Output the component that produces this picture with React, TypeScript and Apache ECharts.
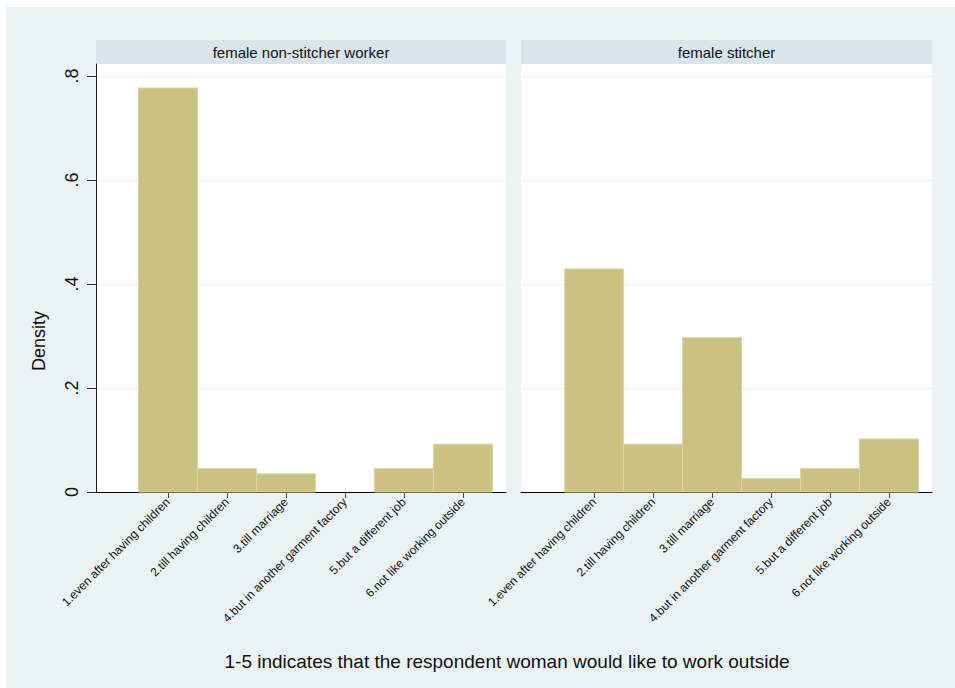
import React, { useEffect, useRef } from 'react';
import * as echarts from 'echarts';

const categories = [
  '1.even after having children',
  '2.till having children',
  '3.till marriage',
  '4.but in another garment factory',
  '5.but a different job',
  '6.not like working outside',
];
const categoryCodes = [1, 2, 3, 4, 5, 6];
const nonStitcherDensity = [0.777, 0.045, 0.035, 0, 0.045, 0.092];
const stitcherDensity = [0.429, 0.092, 0.297, 0.026, 0.045, 0.102];
const yTicks = [0, 0.2, 0.4, 0.6, 0.8];
const yTickLabels = ['0', '.2', '.4', '.6', '.8'];
const panelTitles = ['female non-stitcher worker', 'female stitcher'];
const yTitle = 'Density';
const note = '1-5 indicates that the respondent woman would like to work outside';

const FONT = 'Liberation Sans, Arial, Helvetica, sans-serif';
const BG = '#EAF2F3';
const HEADER = '#D9E5EB';
const BAR_FILL = '#CAC27E';
const BAR_STROKE = '#DCD6A6';

export default function App() {
  const ref = useRef<HTMLDivElement>(null);
  useEffect(() => {
    if (!ref.current) return;
    const chart = echarts.init(ref.current, undefined, { renderer: 'svg' });
    const grids = [
      { left: 90, top: 57, width: 410, height: 428 },
      { left: 515, top: 57, width: 411, height: 428 },
    ];
    const xMins = [-0.22, -0.24];
    const panels = [nonStitcherDensity, stitcherDensity];
    const option: any = {
      animation: false,
      backgroundColor: BG,
      textStyle: { fontFamily: FONT },
      grid: grids.map((g) => ({ ...g, show: true, backgroundColor: '#ffffff', borderWidth: 0, containLabel: false })),
      xAxis: grids.map((_, i) => ({
        type: 'value',
        gridIndex: i,
        min: xMins[i],
        max: 6.73,
        axisLine: { show: true, onZero: false, lineStyle: { color: '#000', width: 1 } },
        axisTick: { show: true, customValues: categoryCodes, length: 6, lineStyle: { color: '#444' } },
        axisLabel: {
          show: true,
          customValues: categoryCodes,
          rotate: 45,
          fontSize: 12,
          color: '#111',
          margin: 8,
          fontFamily: FONT,
          formatter: (v: number) => categories[Math.round(v) - 1] ?? '',
        },
        splitLine: { show: false },
      })),
      yAxis: grids.map((_, i) => ({
        type: 'value',
        gridIndex: i,
        min: 0,
        max: 0.823,
        axisLine: { show: i === 0, onZero: false, lineStyle: { color: '#222', width: 1 } },
        axisTick: { show: i === 0, customValues: yTicks, length: 9, lineStyle: { color: '#333' } },
        axisLabel: {
          show: i === 0,
          customValues: yTicks,
          rotate: 90,
          fontSize: 18,
          color: '#111',
          margin: 15,
          fontFamily: FONT,
          formatter: (v: number) => {
            const k = yTicks.findIndex((t) => Math.abs(t - v) < 1e-6);
            return k >= 0 ? yTickLabels[k] : '';
          },
        },
        splitLine: { show: true, lineStyle: { color: BG, width: 1 } },
      })),
      series: panels.map((vals, i) => ({
        type: 'custom',
        xAxisIndex: i,
        yAxisIndex: i,
        data: categoryCodes.map((c, k) => [c, vals[k]]),
        renderItem: (params: any, api: any) => {
          const x = api.value(0);
          const y = api.value(1);
          if (!y) return null;
          const p1 = api.coord([x - 0.5, y]);
          const p2 = api.coord([x + 0.5, 0]);
          return {
            type: 'rect',
            shape: { x: p1[0], y: p1[1], width: p2[0] - p1[0], height: p2[1] - p1[1] },
            style: { fill: BAR_FILL, stroke: BAR_STROKE, lineWidth: 1 },
          };
        },
      })),
      graphic: [
        ...grids.map((g) => ({
          type: 'rect',
          shape: { x: g.left, y: 33, width: g.width, height: 24 },
          style: { fill: HEADER },
        })),
        ...grids.map((g, i) => ({
          type: 'text',
          x: g.left + g.width / 2,
          y: 45,
          style: {
            text: panelTitles[i],
            fill: '#111',
            font: `15px ${FONT}`,
            textAlign: 'center',
            textVerticalAlign: 'middle',
          },
        })),
        {
          type: 'text',
          x: 33,
          y: 334,
          rotation: Math.PI / 2,
          style: {
            text: yTitle,
            fill: '#111',
            font: `18px ${FONT}`,
            textAlign: 'center',
            textVerticalAlign: 'middle',
          },
        },
        {
          type: 'text',
          x: 501,
          y: 654,
          style: {
            text: note,
            fill: '#111',
            font: `19px ${FONT}`,
            textAlign: 'center',
            textVerticalAlign: 'middle',
          },
        },
      ],
    };
    chart.setOption(option);
    return () => chart.dispose();
  }, []);
  return (
    <div style={{ position: 'absolute', left: 0, top: 0, width: 955, height: 688, background: '#ffffff' }}>
      <div ref={ref} style={{ position: 'absolute', left: 6, top: 7, width: 949, height: 681 }} />
    </div>
  );
}
